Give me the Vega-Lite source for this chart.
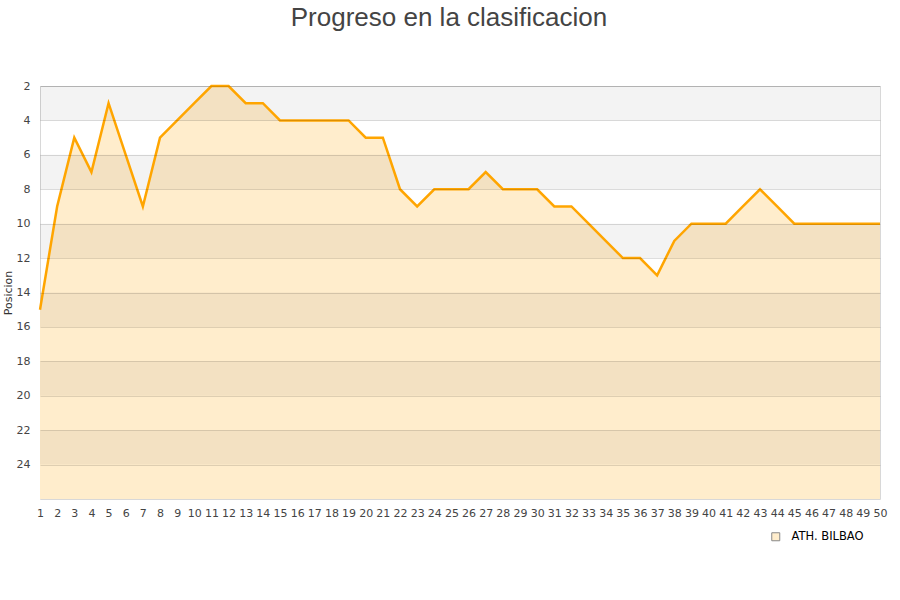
{
  "$schema": "https://vega.github.io/schema/vega-lite/v6.json",
  "width": 840,
  "height": 413,
  "autosize": "none",
  "padding": {"left": 40, "top": 86, "right": 20, "bottom": 101},
  "background": "white",
  "title": {
    "text": "Progreso en la clasificacion",
    "font": "Liberation Sans",
    "fontSize": 26,
    "fontWeight": "normal",
    "color": "#444444",
    "anchor": "middle",
    "frame": "group",
    "dx": -11,
    "offset": 49
  },
  "config": {
    "view": {"stroke": "#d8d8d8", "strokeWidth": 1},
    "axis": {
      "labelFont": "DejaVu Sans",
      "labelFontSize": 11,
      "labelColor": "#444444",
      "labelOverlap": false,
      "labelFlush": false,
      "titleFont": "DejaVu Sans",
      "titleFontSize": 11,
      "titleFontWeight": "normal",
      "titleColor": "#333333",
      "ticks": false,
      "domain": false
    }
  },
  "datasets": {
    "clasif": [
      {"jornada": 1, "pos": 15}, {"jornada": 2, "pos": 9}, {"jornada": 3, "pos": 5},
      {"jornada": 4, "pos": 7}, {"jornada": 5, "pos": 3}, {"jornada": 6, "pos": 6},
      {"jornada": 7, "pos": 9}, {"jornada": 8, "pos": 5}, {"jornada": 9, "pos": 4},
      {"jornada": 10, "pos": 3}, {"jornada": 11, "pos": 2}, {"jornada": 12, "pos": 2},
      {"jornada": 13, "pos": 3}, {"jornada": 14, "pos": 3}, {"jornada": 15, "pos": 4},
      {"jornada": 16, "pos": 4}, {"jornada": 17, "pos": 4}, {"jornada": 18, "pos": 4},
      {"jornada": 19, "pos": 4}, {"jornada": 20, "pos": 5}, {"jornada": 21, "pos": 5},
      {"jornada": 22, "pos": 8}, {"jornada": 23, "pos": 9}, {"jornada": 24, "pos": 8},
      {"jornada": 25, "pos": 8}, {"jornada": 26, "pos": 8}, {"jornada": 27, "pos": 7},
      {"jornada": 28, "pos": 8}, {"jornada": 29, "pos": 8}, {"jornada": 30, "pos": 8},
      {"jornada": 31, "pos": 9}, {"jornada": 32, "pos": 9}, {"jornada": 33, "pos": 10},
      {"jornada": 34, "pos": 11}, {"jornada": 35, "pos": 12}, {"jornada": 36, "pos": 12},
      {"jornada": 37, "pos": 13}, {"jornada": 38, "pos": 11}, {"jornada": 39, "pos": 10},
      {"jornada": 40, "pos": 10}, {"jornada": 41, "pos": 10}, {"jornada": 42, "pos": 9},
      {"jornada": 43, "pos": 8}, {"jornada": 44, "pos": 9}, {"jornada": 45, "pos": 10},
      {"jornada": 46, "pos": 10}, {"jornada": 47, "pos": 10}, {"jornada": 48, "pos": 10},
      {"jornada": 49, "pos": 10}, {"jornada": 50, "pos": 10}
    ],
    "bandas": [
      {"desde": 2, "hasta": 4}, {"desde": 6, "hasta": 8}, {"desde": 10, "hasta": 12},
      {"desde": 14, "hasta": 16}, {"desde": 18, "hasta": 20}, {"desde": 22, "hasta": 24}
    ]
  },
  "layer": [
    {
      "data": {"name": "clasif"},
      "mark": {"type": "area"},
      "encoding": {
        "x": {
          "field": "jornada",
          "type": "quantitative",
          "scale": {"domain": [1, 50], "nice": false, "zero": false},
          "axis": {
            "title": null,
            "grid": false,
            "values": [1,2,3,4,5,6,7,8,9,10,11,12,13,14,15,16,17,18,19,20,21,22,23,24,25,26,27,28,29,30,31,32,33,34,35,36,37,38,39,40,41,42,43,44,45,46,47,48,49,50],
            "tickCount": 100,
            "format": "d",
            "labelPadding": 8,
            "labelOverlap": false
          }
        },
        "y": {
          "field": "pos",
          "type": "quantitative",
          "scale": {"domain": [2, 26], "reverse": true, "nice": false, "zero": false},
          "axis": {
            "title": "Posicion",
            "titlePadding": 3,
            "grid": true,
            "gridColor": "#000000",
            "gridOpacity": 0.13,
            "zindex": 1,
            "values": [2,4,6,8,10,12,14,16,18,20,22,24],
            "tickCount": 30,
            "format": "d",
            "labelPadding": 10,
            "labelOverlap": false
          }
        },
        "y2": {"datum": 26},
        "fill": {
          "datum": "ATH. BILBAO",
          "scale": {"range": ["#ffedcc"]},
          "legend": {
            "title": null,
            "orient": "none",
            "legendX": 730,
            "legendY": 445,
            "symbolType": "square",
            "symbolSize": 64,
            "symbolStrokeColor": "#888888",
            "symbolStrokeWidth": 1,
            "labelFont": "DejaVu Sans",
            "labelFontSize": 11.5,
            "labelColor": "#000000",
            "labelOffset": 10
          }
        }
      }
    },
    {
      "data": {"name": "bandas"},
      "mark": {"type": "rect", "color": "#000000", "opacity": 0.047},
      "encoding": {
        "y": {"field": "desde", "type": "quantitative"},
        "y2": {"field": "hasta"}
      }
    },
    {
      "data": {"name": "clasif"},
      "mark": {"type": "line", "color": "#ffa500", "strokeWidth": 2.5},
      "encoding": {
        "x": {"field": "jornada", "type": "quantitative"},
        "y": {"field": "pos", "type": "quantitative"}
      }
    }
  ]
}
